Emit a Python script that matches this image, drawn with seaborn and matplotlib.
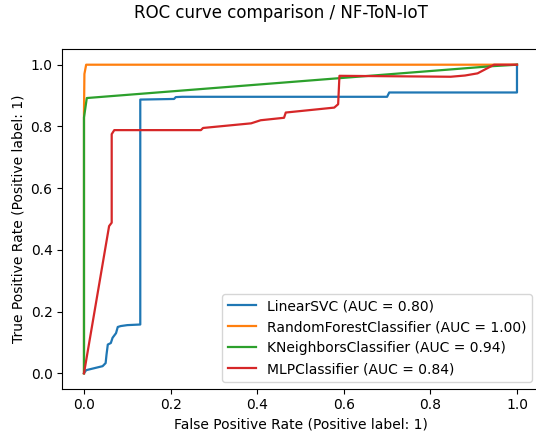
import numpy as np
import pandas as pd
import matplotlib
matplotlib.use("Agg")
import matplotlib.pyplot as plt
import seaborn as sns

# ROC points
svc_fpr = [0.0, 0.005, 0.043, 0.05, 0.052, 0.055, 0.062, 0.066, 0.074, 0.078, 0.085, 0.10, 0.13, 0.13, 0.13, 0.208, 0.212, 0.227, 0.70, 0.705, 1.0, 1.0]
svc_tpr = [0.0, 0.01, 0.023, 0.033, 0.06, 0.093, 0.098, 0.115, 0.13, 0.15, 0.153, 0.156, 0.158, 0.58, 0.887, 0.889, 0.895, 0.896, 0.896, 0.91, 0.91, 1.0]

rf_fpr = [0.0, 0.0, 0.001, 0.005, 1.0]
rf_tpr = [0.0, 0.845, 0.97, 1.0, 1.0]

knn_fpr = [0.0, 0.0, 0.0065, 0.94, 1.0]
knn_tpr = [0.0, 0.829, 0.892, 0.995, 1.0]

mlp_fpr = [0.0, 0.058, 0.064, 0.064, 0.07, 0.27, 0.275, 0.386, 0.408, 0.462, 0.466, 0.578, 0.587, 0.59, 0.847, 0.88, 0.909, 0.947, 1.0]
mlp_tpr = [0.0, 0.477, 0.488, 0.775, 0.788, 0.788, 0.795, 0.81, 0.82, 0.828, 0.845, 0.861, 0.872, 0.964, 0.961, 0.965, 0.972, 1.0, 1.0]

models = ["LinearSVC", "RandomForestClassifier", "KNeighborsClassifier", "MLPClassifier"]
aucs = [0.80, 1.00, 0.94, 0.84]

rows = []
for name, auc, fpr, tpr in zip(models, aucs,
                                [svc_fpr, rf_fpr, knn_fpr, mlp_fpr],
                                [svc_tpr, rf_tpr, knn_tpr, mlp_tpr]):
    label = f"{name} (AUC = {auc:.2f})"
    for f, t in zip(fpr, tpr):
        rows.append({"fpr": f, "tpr": t, "model": label})
df = pd.DataFrame(rows)

plt.rcParams["font.size"] = 10
fig = plt.figure(figsize=(5.36, 4.46), dpi=100)
ax = fig.add_axes([0.1163, 0.1285, 0.8886, 0.761])

sns.lineplot(data=df, x="fpr", y="tpr", hue="model", palette="tab10",
             sort=False, estimator=None, linewidth=1.6, ax=ax)

ax.set_xlim(-0.05, 1.05)
ax.set_ylim(-0.05, 1.05)
ax.set_xlabel("False Positive Rate (Positive label: 1)")
ax.set_ylabel("True Positive Rate (Positive label: 1)")
ax.legend(loc="lower right")
fig.suptitle("ROC curve comparison / NF-ToN-IoT", x=0.524, y=0.99, fontsize=12)

fig.savefig("out.png", dpi=100)
